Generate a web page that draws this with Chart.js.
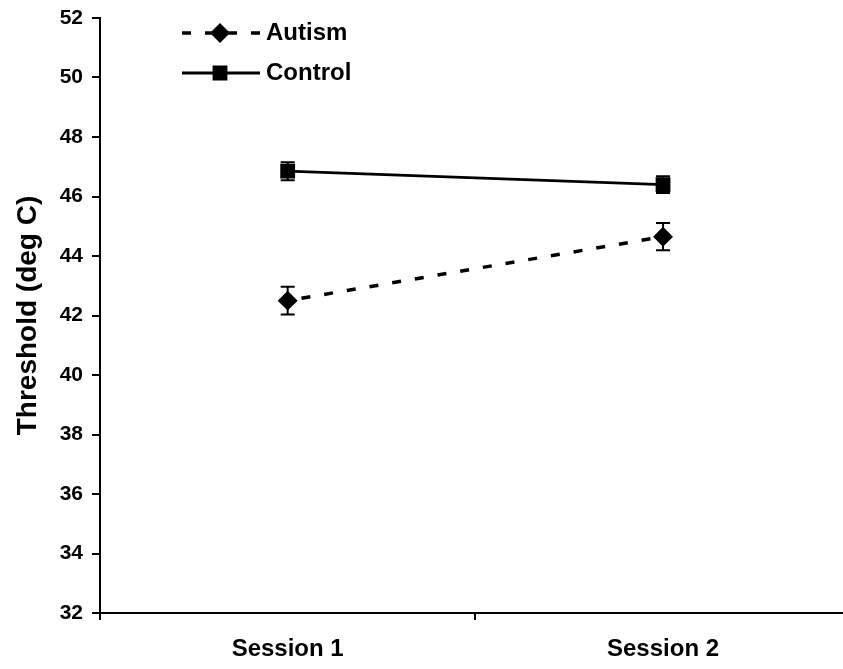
<!DOCTYPE html>
<html>
<head>
<meta charset="utf-8">
<script src="https://cdn.jsdelivr.net/npm/chart.js@4"></script>
<style>
  body { margin: 0; background: #fff; overflow: hidden; }
  #wrap { width: 843px; height: 669px; overflow: hidden; }
</style>
</head>
<body>
<div id="wrap"><canvas id="myChart" width="862" height="669"></canvas></div>
<script>
var sessions = ['Session 1', 'Session 2'];
var autism = [42.5, 44.65];
var autismErr = [0.47, 0.46];
var control = [46.85, 46.4];
var controlErr = [0.3, 0.28];
var yTicks = [32, 34, 36, 38, 40, 42, 44, 46, 48, 50, 52];

var fontFam = '"Liberation Sans", Arial, Helvetica, sans-serif';

// error bars with caps
var errorBars = {
  id: 'errorBars',
  afterDatasetsDraw: function(chart) {
    var ctx = chart.ctx;
    var y = chart.scales.y;
    var errs = [autismErr, controlErr];
    ctx.save();
    ctx.strokeStyle = '#000';
    ctx.lineWidth = 2;
    chart.data.datasets.forEach(function(ds, i) {
      var meta = chart.getDatasetMeta(i);
      meta.data.forEach(function(pt, j) {
        var hi = y.getPixelForValue(ds.data[j] + errs[i][j]);
        var lo = y.getPixelForValue(ds.data[j] - errs[i][j]);
        ctx.beginPath();
        ctx.moveTo(pt.x, hi); ctx.lineTo(pt.x, lo);
        ctx.moveTo(pt.x - 7, hi); ctx.lineTo(pt.x + 7, hi);
        ctx.moveTo(pt.x - 7, lo); ctx.lineTo(pt.x + 7, lo);
        ctx.stroke();
      });
    });
    ctx.restore();
  }
};

// legend: line sample with marker in the middle
var lineLegend = {
  id: 'lineLegend',
  afterDraw: function(chart) {
    var ctx = chart.ctx;
    ctx.save();
    chart.data.datasets.forEach(function(ds, i) {
      var yy = 33 + i * 40;
      ctx.strokeStyle = '#000';
      ctx.lineWidth = ds.borderWidth;
      ctx.setLineDash(ds.borderDash || []);
      ctx.beginPath();
      ctx.moveTo(182, yy); ctx.lineTo(260, yy);
      ctx.stroke();
      ctx.setLineDash([]);
      ctx.fillStyle = '#000';
      Chart.helpers.drawPoint(ctx, {pointStyle: ds.pointStyle, radius: ds.pointRadius, rotation: 0, borderWidth: 1}, 220, yy);
      ctx.font = 'bold 24px ' + fontFam;
      ctx.textBaseline = 'middle';
      ctx.fillText(ds.label, 266, yy);
    });
    ctx.restore();
  }
};

var ctx = document.getElementById('myChart').getContext('2d');
var myLineChart = new Chart(ctx, {
  type: 'line',
  data: {
    labels: sessions,
    datasets: [{
      label: 'Autism',
      data: autism,
      borderColor: '#000',
      backgroundColor: '#000',
      borderWidth: 3.5,
      borderDash: [9, 14],
      borderDashOffset: 9,
      pointStyle: 'rectRot',
      pointRadius: 7.5,
      pointBackgroundColor: '#000',
      pointBorderColor: '#000',
      tension: 0
    }, {
      label: 'Control',
      data: control,
      borderColor: '#000',
      backgroundColor: '#000',
      borderWidth: 2.8,
      pointStyle: 'rect',
      pointRadius: 8.5,
      pointBackgroundColor: '#000',
      pointBorderColor: '#000',
      tension: 0
    }]
  },
  options: {
    responsive: false,
    animation: false,
    layout: { padding: { top: 18, right: 0, left: 0, bottom: 0 } },
    plugins: { legend: { display: false }, tooltip: { enabled: false } },
    scales: {
      x: {
        offset: true,
        grid: { display: true, drawOnChartArea: false, drawTicks: true, tickLength: 7, color: '#000', lineWidth: 2, offset: true },
        border: { color: '#000', width: 2 },
        ticks: { color: '#000', font: { family: fontFam, size: 24, weight: 'bold' }, padding: 15 },
        afterFit: function(s) { s.height = 56; }
      },
      y: {
        min: 32,
        max: 52,
        afterBuildTicks: function(s) { s.ticks = yTicks.map(function(v) { return { value: v }; }); },
        grid: { display: true, drawOnChartArea: false, drawTicks: true, tickLength: 8, color: '#000', lineWidth: 2 },
        border: { color: '#000', width: 2 },
        ticks: { color: '#000', font: { family: fontFam, size: 21, weight: 'bold', lineHeight: 1 }, padding: 9 },
        title: { display: true, text: 'Threshold (deg C)', color: '#000', font: { family: fontFam, size: 28, weight: 'bold' }, padding: { top: 11, bottom: 0 } },
        afterFit: function(s) { s.width = 100; s.paddingTop = 0; s.paddingBottom = 0; }
      }
    }
  },
  plugins: [errorBars, lineLegend]
});
</script>
</body>
</html>
